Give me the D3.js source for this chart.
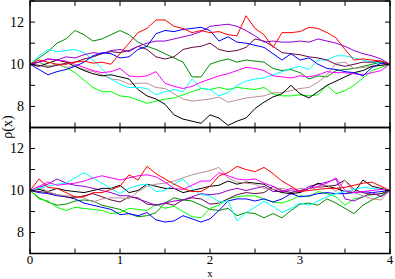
<!DOCTYPE html>
<html>
<head>
<meta charset="utf-8">
<script src="https://cdn.jsdelivr.net/npm/d3@7/dist/d3.min.js"></script>
<style>
  body { margin: 0; background: #fff; }
  text { font-family: "Liberation Serif", "DejaVu Serif", serif; }
</style>
</head>
<body>
<div id="chart"></div>
<script>
// x grid shared by every curve (0 .. 4 step 0.1)
var xGrid = d3.range(41).map(function (i) { return i / 10; });
var xTicks = [0, 1, 2, 3, 4];
var yTicks = [8, 10, 12];

// upper panel
var topGreen4 = [10,10.3,10.6,11.0,11.2,11.6,11.4,11.1,11.2,11.4,11.6,11.4,11.05,10.85,10.7,10.5,10.3,10.1,9.4,9.4,10.0,10.15,10.25,10.1,10.2,10.15,10.1,9.8,9.7,9.75,9.6,9.3,9.45,9.4,9.7,9.75,9.8,9.9,10.0,10.1,10.0];
var topRed = [10,10.2,10.1,10.0,10.0,10.1,10.15,10.05,10.1,10.0,10.5,11.0,11.5,11.7,12.1,12.1,11.8,11.7,11.5,11.6,11.5,11.55,11.4,11.35,12.3,11.7,11.4,10.8,11.5,11.5,11.55,11.75,11.7,11.5,11.25,10.7,10.2,10.25,10.2,10.15,10.0];
var topBlue = [10,9.75,9.5,9.65,9.75,9.9,10.1,10.4,10.55,10.5,10.3,10.35,10.7,10.85,11.45,11.6,11.55,11.65,11.7,11.75,11.6,11.1,11.3,11.05,11.0,10.9,10.8,10.5,10.2,10.5,10.2,10.3,10.0,9.8,9.75,9.65,9.6,9.45,9.85,10.05,10.0];
var topViolet = [10,10.1,10.25,10.2,10.35,10.3,10.45,10.55,10.5,10.65,10.7,10.6,10.85,11.0,11.1,11.1,11.2,11.3,11.4,11.55,11.8,11.85,11.9,11.8,11.6,11.35,11.05,11.1,11.05,11.05,11.1,11.05,11.2,11.1,11.0,10.85,10.65,10.5,10.4,10.25,10.0];
var topMaroon = [10,9.95,9.85,9.95,10.05,10.1,10.25,10.35,10.5,10.6,10.55,10.65,10.85,10.7,10.35,10.25,10.35,10.7,10.8,10.85,11.0,10.7,10.6,10.65,10.8,11.2,11.1,10.85,10.55,10.5,10.45,10.35,10.3,10.2,10.0,9.9,10.0,10.1,10.1,10.15,10.0];
var topMagenta = [10,10.1,10.25,10.2,10.15,10.0,9.85,9.7,9.6,9.65,9.8,9.45,9.4,9.45,9.65,9.1,8.95,8.85,8.95,9.15,9.3,9.45,9.55,9.7,9.85,9.8,9.7,9.45,9.4,9.35,9.45,9.4,9.5,9.65,9.6,9.6,9.55,9.5,9.6,9.7,10.0];
var topCyan = [10,10.4,10.7,10.6,10.65,10.7,10.55,10.2,9.8,9.3,9.05,8.9,8.9,8.85,8.55,8.7,8.8,8.7,9.3,8.85,8.8,8.5,8.65,9.0,9.2,9.3,9.35,9.5,9.65,9.8,9.9,9.75,10.2,10.2,10.4,10.4,10.3,10.2,10.1,10.05,10.0];
var topBrown = [10,10.1,9.9,10.0,9.85,9.9,9.75,9.65,9.5,9.3,9.25,9.05,9.1,9.1,8.9,8.85,8.6,8.35,8.25,8.3,8.35,8.45,8.2,8.3,8.4,8.45,8.5,8.65,8.65,8.75,8.85,8.9,9.15,9.5,10.05,10.1,9.8,9.85,9.9,9.95,10.0];
var topBlack = [10,9.9,10.05,10.2,10.1,9.9,9.7,9.55,9.45,9.5,9.4,9.3,8.8,8.5,8.35,8.1,7.6,7.4,7.3,7.2,7.6,7.45,7.1,7.3,7.45,7.9,8.2,8.45,8.6,9.0,8.6,8.4,8.7,9.0,9.2,9.4,9.6,9.7,9.9,9.95,10.0];
var topGreen = [10,10.1,9.9,10.0,9.85,9.6,9.25,8.9,8.7,8.7,8.5,8.45,8.3,8.15,8.25,8.35,8.4,8.55,8.7,8.85,8.8,8.9,8.8,8.9,8.85,8.8,8.9,8.6,8.5,8.5,8.55,8.5,8.55,9.0,8.6,8.75,9.0,9.35,9.7,9.85,10.0];

// lower panel
var botRed = [10,10.55,10.15,10.1,9.9,9.7,9.7,9.9,9.9,10.05,10.2,10.75,10.5,11.15,10.8,10.55,10.3,10.1,9.95,9.95,10.2,10.7,10.85,11.15,11.0,10.9,11.1,10.8,10.45,10.2,9.95,10.0,10.05,10.1,10.1,10.15,10.25,10.35,10.4,10.2,10.0];
var botCyan = [10,10.1,10.2,10.3,10.35,10.6,10.85,10.6,10.35,10.1,9.85,10.1,10.25,10.3,9.95,10.0,10.3,10.55,10.1,9.8,9.75,9.45,9.5,8.55,8.95,9.2,9.5,9.25,8.95,9.15,9.4,9.3,9.5,9.7,9.85,9.95,10.05,10.15,10.1,10.05,10.0];
var botMagenta = [10,10.2,10.4,10.25,10.3,10.35,10.45,10.6,10.7,10.6,10.5,10.6,10.7,10.75,10.65,10.4,10.1,10.05,10.25,10.45,10.45,10.85,10.7,10.55,10.5,10.55,10.35,10.2,9.95,10.1,9.95,10.1,10.2,10.35,10.6,10.0,9.9,9.95,10.0,10.05,10.0];
var botBrown = [10,10.15,9.95,9.8,9.75,9.7,9.65,9.45,9.6,9.65,9.65,9.6,9.95,10.2,10.3,10.35,10.45,10.6,10.75,10.85,10.95,11.1,10.6,10.4,10.35,10.3,10.1,10.05,10.1,10.0,10.1,10.1,10.15,10.25,9.95,10.5,9.9,9.75,9.6,9.55,10.0];
var botBlack = [10,10.05,9.95,10.1,10.0,9.95,9.9,10.0,10.1,10.1,10.25,9.9,10.0,10.3,10.2,10.1,10.1,9.9,10.0,10.1,10.2,10.25,10.45,10.3,10.4,10.35,10.3,10.05,9.9,9.85,9.9,10.1,10.35,10.2,10.1,9.95,9.9,10.5,10.2,10.1,10.0];
var botViolet = [10,10.15,10.3,10.55,10.35,10.25,10.2,10.1,10.0,9.9,9.75,9.75,9.6,9.45,9.3,9.4,9.5,9.55,9.7,9.85,9.8,9.85,10.0,10.1,10.0,10.1,10.2,9.95,9.95,10.0,9.9,10.2,10.3,10.4,10.55,9.6,9.5,9.7,9.9,9.7,10.0];
var botMaroon = [10,9.95,9.9,9.8,9.7,9.65,9.75,9.85,9.7,9.55,9.45,9.7,9.65,9.35,9.3,9.4,9.3,9.55,9.65,9.6,9.35,9.4,9.6,9.8,9.9,9.85,9.9,10.2,10.0,9.9,10.0,10.1,10.15,10.2,10.25,10.5,10.05,9.9,9.8,9.85,10.0];
var botBlue = [10,9.9,9.85,9.75,9.7,9.6,9.4,9.3,9.2,9.1,8.85,8.9,8.8,8.95,8.6,8.5,8.55,8.8,8.65,8.5,8.65,9.05,9.5,9.6,9.6,9.5,9.6,9.45,9.6,9.85,9.7,9.75,9.85,9.9,9.85,9.85,9.9,9.95,9.9,9.95,10.0];
var botGreen = [10,9.6,9.5,9.2,9.05,9.2,9.15,9.1,9.05,8.9,8.95,9.15,9.1,9.05,9.35,9.15,9.25,9.0,8.75,8.7,9.15,9.3,9.6,9.7,9.75,9.75,9.6,9.45,9.4,9.55,9.75,9.7,9.95,9.85,9.7,9.3,9.6,9.7,9.8,9.85,10.0];
var botGreen4 = [10,9.65,9.45,9.3,9.35,9.5,9.55,9.5,9.3,9.2,9.1,8.9,8.75,8.8,8.95,9.4,9.65,9.55,9.5,9.3,9.1,9.05,9.15,8.8,8.95,8.9,8.7,8.9,8.7,9.05,9.35,9.4,9.3,9.6,9.4,9.15,8.9,9.3,9.55,9.75,10.0];

// grace-like palette
var colors = {
    black: "#000000", red: "#ff0000", green: "#00ff00", blue: "#0000ff",
    brown: "#bc8f8f", violet: "#9400d3", cyan: "#00ffff", magenta: "#ff00ff",
    maroon: "#670748", green4: "#008b00"
};

var topSeries = [
    { c: "green4", v: topGreen4 }, { c: "green", v: topGreen }, { c: "brown", v: topBrown },
    { c: "black", v: topBlack }, { c: "cyan", v: topCyan }, { c: "magenta", v: topMagenta },
    { c: "maroon", v: topMaroon }, { c: "violet", v: topViolet }, { c: "blue", v: topBlue },
    { c: "red", v: topRed }
];
var botSeries = [
    { c: "green4", v: botGreen4 }, { c: "green", v: botGreen }, { c: "blue", v: botBlue },
    { c: "maroon", v: botMaroon }, { c: "violet", v: botViolet }, { c: "black", v: botBlack },
    { c: "brown", v: botBrown }, { c: "cyan", v: botCyan }, { c: "magenta", v: botMagenta },
    { c: "red", v: botRed }
];

var width = 395, height = 279;
var left = 30, right = 390;

var svg = d3.select("#chart").append("svg")
    .attr("width", width)
    .attr("height", height);

var x = d3.scaleLinear().domain([0, 4]).range([left, right]);

function drawPanel(series, top, bottom, showX) {
    var y = d3.scaleLinear().domain([7, 13]).range([bottom, top]);
    var g = svg.append("g");

    var clipId = "clip" + Math.round(top);
    g.append("clipPath").attr("id", clipId)
        .append("rect")
        .attr("x", left).attr("y", top)
        .attr("width", right - left).attr("height", bottom - top);

    var line = d3.line()
        .x(function (d, i) { return x(xGrid[i]); })
        .y(function (d) { return y(d); });

    g.append("g").attr("clip-path", "url(#" + clipId + ")")
        .selectAll("path")
        .data(series)
        .enter().append("path")
        .attr("d", function (s) { return line(s.v); })
        .attr("fill", "none")
        .attr("stroke", function (s) { return colors[s.c]; })
        .attr("stroke-width", 1);

    // inward ticks on all four sides
    var tl = 5;
    var xt = d3.range(0, 9).map(function (i) { return i / 2; });
    var yt = d3.range(7, 14);
    var ticks = g.append("g").attr("stroke", "#000").attr("stroke-width", 1);
    xt.forEach(function (t) {
        ticks.append("line").attr("x1", x(t)).attr("x2", x(t)).attr("y1", bottom).attr("y2", bottom - tl);
        ticks.append("line").attr("x1", x(t)).attr("x2", x(t)).attr("y1", top).attr("y2", top + tl);
    });
    yt.forEach(function (t) {
        ticks.append("line").attr("x1", left).attr("x2", left + tl).attr("y1", y(t)).attr("y2", y(t));
        ticks.append("line").attr("x1", right).attr("x2", right - tl).attr("y1", y(t)).attr("y2", y(t));
    });

    g.append("rect")
        .attr("x", left).attr("y", top)
        .attr("width", right - left).attr("height", bottom - top)
        .attr("fill", "none").attr("stroke", "#000").attr("stroke-width", 1.5);

    g.selectAll(".ylab")
        .data(yTicks)
        .enter().append("text")
        .attr("x", left - 6)
        .attr("y", function (d) { return y(d); })
        .attr("dy", "0.35em")
        .attr("text-anchor", "end")
        .attr("font-size", 14)
        .text(function (d) { return d; });

    if (showX) {
        g.selectAll(".xlab")
            .data(xTicks)
            .enter().append("text")
            .attr("x", function (d) { return x(d); })
            .attr("y", bottom + 10)
            .attr("text-anchor", "middle")
            .attr("font-size", 13)
            .text(function (d) { return d; });
    }
}

drawPanel(topSeries, 1, 127.5, false);
drawPanel(botSeries, 127.5, 253.5, true);

svg.append("text")
    .attr("x", x(2))
    .attr("y", 276.5)
    .attr("text-anchor", "middle")
    .attr("font-size", 11)
    .text("x");

svg.append("text")
    .attr("transform", "translate(12,127) rotate(-90)")
    .attr("text-anchor", "middle")
    .attr("font-size", 14)
    .text("ρ(x)");
</script>
</body>
</html>
